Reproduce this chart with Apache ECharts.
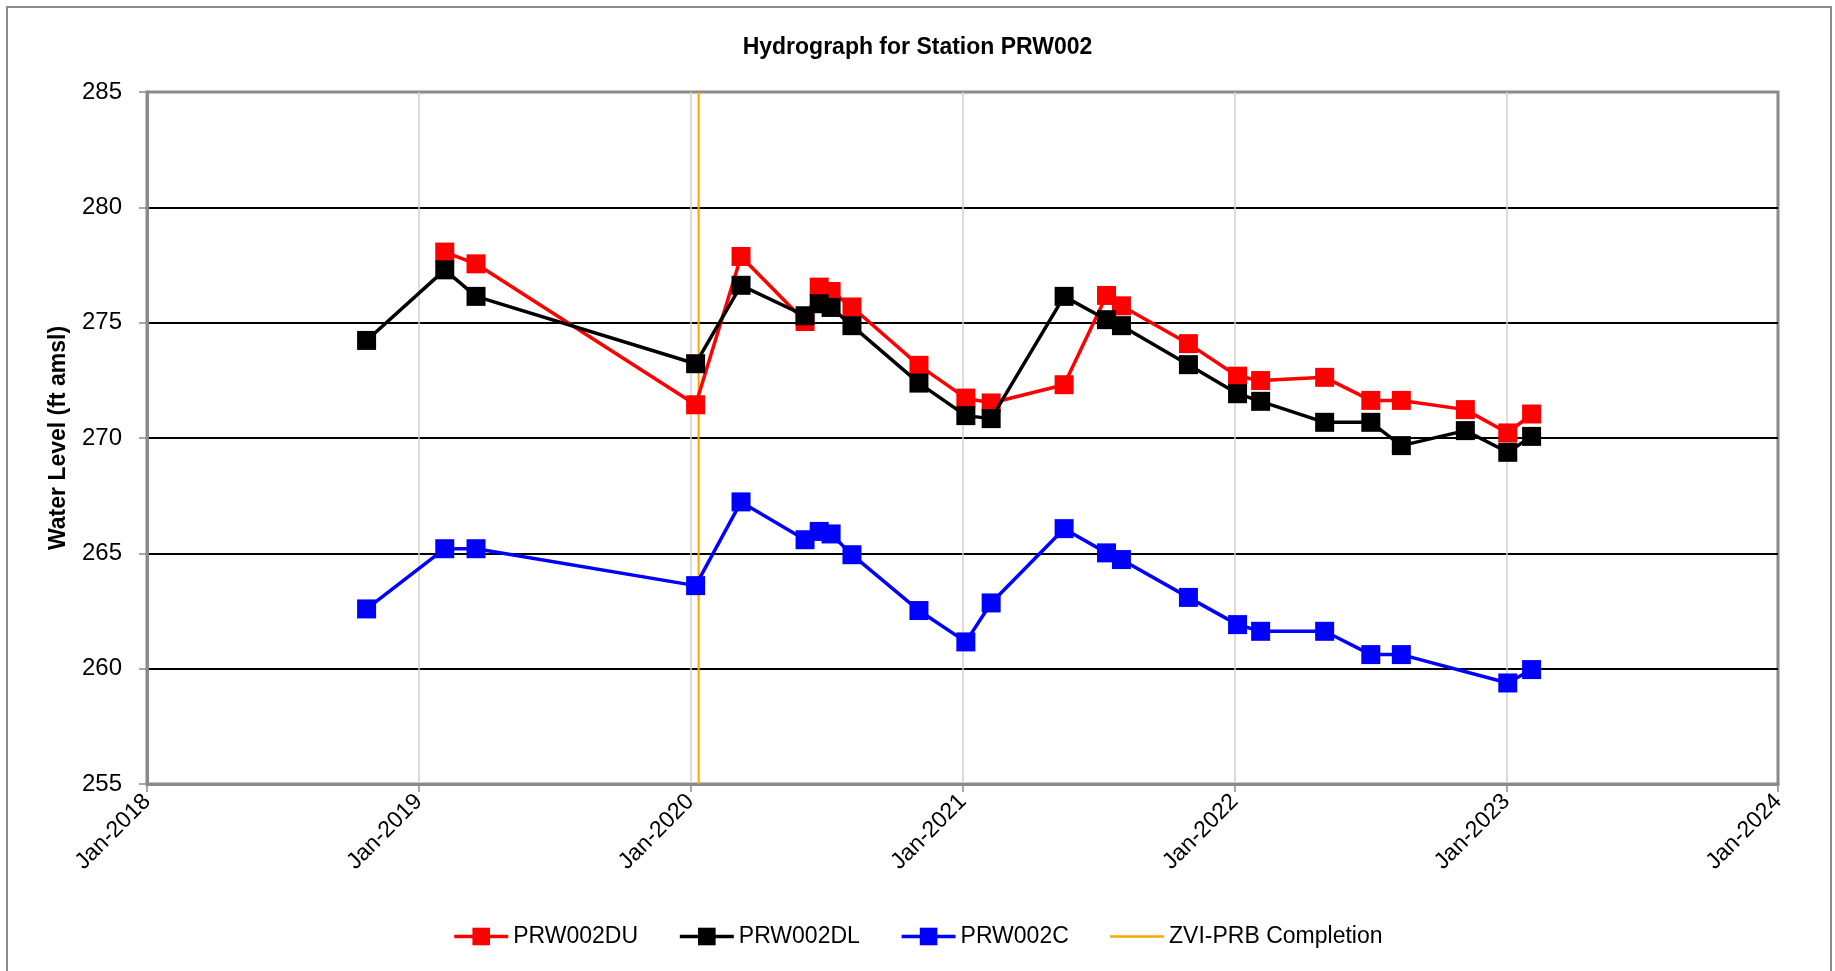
<!DOCTYPE html>
<html>
<head>
<meta charset="utf-8">
<script src="https://cdn.jsdelivr.net/npm/echarts@6/dist/echarts.min.js"></script>
<style>
html,body{margin:0;padding:0;background:#fff;}
#chart{width:1835px;height:971px;}
</style>
</head>
<body>
<div id="chart"></div>
<script>
// ---- data ----
var dates = ['2018-10-23','2019-02-05','2019-03-19','2020-01-08','2020-03-09','2020-06-03','2020-06-22','2020-07-08','2020-08-05','2020-11-03','2021-01-05','2021-02-08','2021-05-17','2021-07-13','2021-08-02','2021-10-31','2022-01-05','2022-02-05','2022-05-02','2022-07-03','2022-08-13','2022-11-07','2023-01-03','2023-02-04'];
var du = [null, 278.06, 277.55, 271.44, 277.87, 275.05, 276.54, 276.35, 275.68, 273.15, 271.73, 271.52, 272.31, 276.18, 275.73, 274.09, 272.68, 272.49, 272.63, 271.63, 271.63, 271.23, 270.22, 271.04];
var dl = [274.23, 277.29, 276.14, 273.22, 276.62, 275.30, 275.82, 275.66, 274.87, 272.38, 270.97, 270.84, 276.14, 275.13, 274.87, 273.18, 271.92, 271.59, 270.68, 270.68, 269.67, 270.32, 269.38, 270.07];
var c  = [262.59, 265.20, 265.20, 263.60, 267.23, 265.59, 265.95, 265.84, 264.94, 262.52, 261.16, 262.85, 266.07, 265.02, 264.73, 263.09, 261.91, 261.62, 261.62, 260.61, 260.61, null, 259.38, 259.96];
var seriesNames = ['PRW002DU', 'PRW002DL', 'PRW002C', 'ZVI-PRB Completion'];
var zviDate = '2020-01-12';
var yMin = 255, yMax = 285, yStep = 5;
var xMin = '2018-01-01', xMax = '2024-01-01';

function pair(vals) {
  return dates.map(function (d, i) { return [d, vals[i]]; });
}

var FONT = 'Liberation Sans';
var chart = echarts.init(document.getElementById('chart'), null, {renderer: 'canvas'});
var option = {
  backgroundColor: '#ffffff',
  animation: false,
  textStyle: {fontFamily: FONT, color: '#000'},
  title: {
    text: 'Hydrograph for Station PRW002',
    left: 'center',
    top: 31,
    textStyle: {fontFamily: FONT, fontSize: 23, fontWeight: 'bold', color: '#000'}
  },
  graphic: [{
    type: 'rect',
    shape: {x: 7, y: 7, width: 1824, height: 1000},
    style: {fill: 'none', stroke: '#8c8c8c', lineWidth: 2},
    silent: true,
    z: -10
  }],
  grid: {
    left: 147, right: 57, top: 92, bottom: 187,
    show: true, borderColor: '#8a8a8a', borderWidth: 3, backgroundColor: 'transparent',
    containLabel: false
  },
  legend: {
    data: [
      {name: seriesNames[0], lineStyle: {width: 3.5}},
      {name: seriesNames[1], lineStyle: {width: 3.5}},
      {name: seriesNames[2], lineStyle: {width: 3.5}},
      {name: seriesNames[3], lineStyle: {width: 2.5}, itemStyle: {opacity: 0}}
    ],
    left: 'center',
    top: 920,
    itemWidth: 54,
    itemHeight: 22,
    itemGap: 40,
    textStyle: {fontFamily: FONT, fontSize: 23, color: '#000'}
  },
  xAxis: {
    type: 'time',
    min: xMin,
    max: xMax,
    splitNumber: 6,
    minInterval: 365 * 86400000,
    axisLine: {show: true, lineStyle: {color: '#8a8a8a', width: 3}},
    axisTick: {show: true, length: 8, lineStyle: {color: '#8a8a8a', width: 1.5}},
    splitLine: {show: true, showMinLine: false, showMaxLine: false, lineStyle: {color: '#d0d0d0', width: 1.5}},
    axisLabel: {
      rotate: 45,
      margin: 14,
      fontSize: 23,
      fontFamily: FONT,
      color: '#000',
      showMinLabel: true,
      showMaxLabel: true,
      hideOverlap: false,
      formatter: function (v) { return 'Jan-' + new Date(v).getFullYear(); }
    }
  },
  yAxis: {
    type: 'value',
    min: yMin,
    max: yMax,
    interval: yStep,
    name: 'Water Level (ft amsl)',
    nameLocation: 'middle',
    nameGap: 77,
    nameRotate: 90,
    nameTextStyle: {fontFamily: FONT, fontSize: 23, fontWeight: 'bold', color: '#000'},
    axisLine: {show: true, lineStyle: {color: '#8a8a8a', width: 3}},
    axisTick: {show: true, length: 8, lineStyle: {color: '#8a8a8a', width: 1.5}},
    splitLine: {show: true, showMinLine: false, showMaxLine: false, lineStyle: {color: '#000', width: 2}},
    axisLabel: {margin: 25, fontSize: 24, fontFamily: FONT, color: '#000'}
  },
  series: [
    {
      name: seriesNames[0], type: 'line', data: pair(du), connectNulls: true,
      symbol: 'rect', symbolSize: 19,
      lineStyle: {color: '#ff0000', width: 3.5}, itemStyle: {color: '#ff0000'}, z: 3
    },
    {
      name: seriesNames[1], type: 'line', data: pair(dl), connectNulls: true,
      symbol: 'rect', symbolSize: 19,
      lineStyle: {color: '#000000', width: 3.5}, itemStyle: {color: '#000000'}, z: 4
    },
    {
      name: seriesNames[2], type: 'line', data: pair(c), connectNulls: true,
      symbol: 'rect', symbolSize: 19,
      lineStyle: {color: '#0000ff', width: 3.5}, itemStyle: {color: '#0000ff'}, z: 5
    },
    {
      name: seriesNames[3], type: 'line', data: [[zviDate, yMin], [zviDate, yMax]],
      symbol: 'none',
      lineStyle: {color: '#ffa500', width: 2}, itemStyle: {color: '#ffa500'}, z: 2
    }
  ]
};
chart.setOption(option);
</script>
</body>
</html>
